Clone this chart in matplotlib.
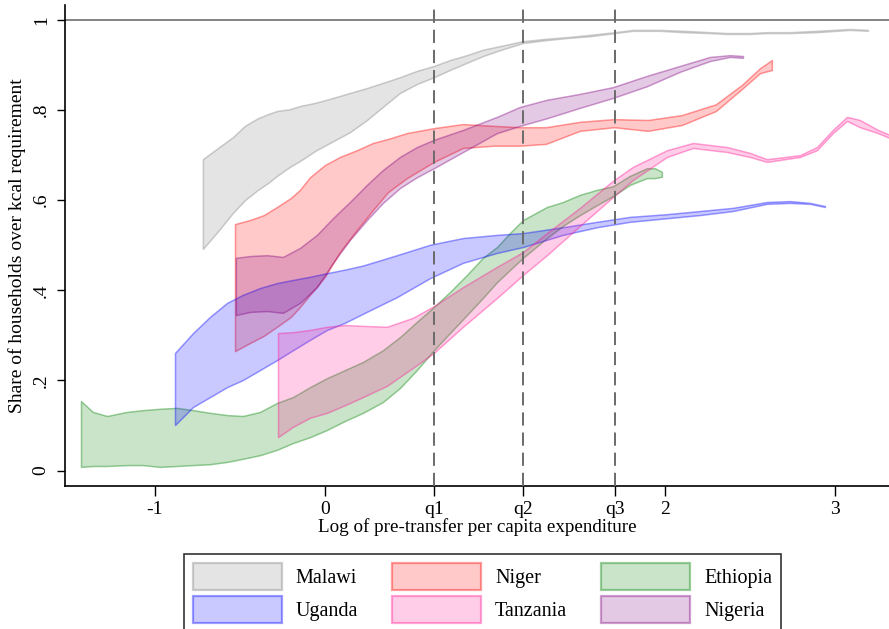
import matplotlib
matplotlib.use("Agg")
import matplotlib.pyplot as plt
from matplotlib.patches import Patch
from matplotlib.colors import to_rgba

plt.rcParams['font.family'] = ['Liberation Serif', 'DejaVu Serif']
plt.rcParams['lines.scale_dashes'] = False

# ---- data: confidence bands of share of households above kcal requirement ----
malawi_x = [-0.718, -0.629, -0.541, -0.471, -0.394, -0.335, -0.282, -0.206, -0.147, -0.059,
            0.029, 0.147, 0.247, 0.353, 0.441, 0.541, 0.641, 0.735, 0.835, 0.929,
            1.029, 1.165, 1.294, 1.424, 1.559, 1.706, 1.812, 1.971, 2.106, 2.265,
            2.365, 2.5, 2.6, 2.735, 2.894, 3.088, 3.194]
malawi_hi = [0.691, 0.716, 0.740, 0.765, 0.782, 0.791, 0.798, 0.802, 0.809, 0.816,
             0.825, 0.838, 0.849, 0.862, 0.873, 0.887, 0.898, 0.911, 0.922, 0.934,
             0.942, 0.953, 0.958, 0.962, 0.967, 0.973, 0.978, 0.978, 0.976, 0.973,
             0.971, 0.971, 0.973, 0.973, 0.976, 0.980, 0.978]
malawi_lo = [0.492, 0.531, 0.572, 0.600, 0.623, 0.638, 0.654, 0.674, 0.687, 0.709,
             0.727, 0.751, 0.778, 0.811, 0.838, 0.858, 0.873, 0.889, 0.905, 0.920,
             0.933, 0.949, 0.955, 0.960, 0.964, 0.971, 0.976, 0.976, 0.973, 0.971,
             0.969, 0.969, 0.971, 0.971, 0.973, 0.978, 0.976]

niger_x = [-0.529, -0.441, -0.359, -0.282, -0.200, -0.147, -0.088, 0.0, 0.088, 0.188,
           0.282, 0.371, 0.482, 0.641, 0.812, 0.994, 1.147, 1.300, 1.500, 1.700,
           1.900, 2.100, 2.300, 2.453, 2.559, 2.629]
niger_hi = [0.547, 0.556, 0.567, 0.585, 0.605, 0.623, 0.651, 0.678, 0.696, 0.711,
            0.727, 0.736, 0.749, 0.760, 0.769, 0.765, 0.762, 0.762, 0.774, 0.780,
            0.778, 0.789, 0.813, 0.856, 0.893, 0.911]
niger_lo = [0.265, 0.283, 0.299, 0.319, 0.341, 0.363, 0.390, 0.430, 0.485, 0.534,
            0.578, 0.618, 0.649, 0.685, 0.716, 0.721, 0.721, 0.725, 0.754, 0.762,
            0.754, 0.767, 0.798, 0.847, 0.882, 0.889]

ethiopia_x = [-1.435, -1.365, -1.282, -1.165, -1.071, -0.971, -0.871, -0.776, -0.676, -0.576,
              -0.482, -0.382, -0.282, -0.188, -0.088, 0.012, 0.118, 0.224, 0.341, 0.441,
              0.541, 0.641, 0.735, 0.835, 0.929, 1.012, 1.088, 1.165, 1.306, 1.400,
              1.500, 1.600, 1.694, 1.794, 1.894, 1.941, 1.982]
ethiopia_hi = [0.154, 0.130, 0.121, 0.130, 0.134, 0.137, 0.139, 0.134, 0.128, 0.123,
               0.121, 0.130, 0.150, 0.163, 0.185, 0.205, 0.223, 0.241, 0.267, 0.296,
               0.330, 0.363, 0.396, 0.434, 0.472, 0.496, 0.527, 0.556, 0.585, 0.596,
               0.612, 0.623, 0.631, 0.654, 0.671, 0.671, 0.663]
ethiopia_lo = [0.008, 0.010, 0.010, 0.012, 0.012, 0.008, 0.010, 0.012, 0.014, 0.019,
               0.026, 0.034, 0.046, 0.061, 0.074, 0.090, 0.110, 0.128, 0.152, 0.183,
               0.223, 0.267, 0.305, 0.345, 0.383, 0.418, 0.445, 0.472, 0.516, 0.543,
               0.567, 0.589, 0.609, 0.634, 0.649, 0.649, 0.652]

uganda_x = [-0.882, -0.776, -0.676, -0.576, -0.482, -0.382, -0.282, -0.188, -0.088, 0.012,
            0.118, 0.224, 0.424, 0.618, 0.812, 1.012, 1.165, 1.400, 1.600, 1.794,
            2.012, 2.206, 2.400, 2.600, 2.735, 2.853, 2.941]
uganda_hi = [0.261, 0.305, 0.341, 0.372, 0.390, 0.405, 0.416, 0.423, 0.430, 0.438,
             0.446, 0.455, 0.478, 0.501, 0.516, 0.523, 0.527, 0.540, 0.552, 0.563,
             0.569, 0.576, 0.583, 0.596, 0.598, 0.594, 0.587]
uganda_lo = [0.101, 0.141, 0.163, 0.185, 0.201, 0.223, 0.245, 0.267, 0.290, 0.312,
             0.328, 0.348, 0.385, 0.427, 0.461, 0.483, 0.496, 0.523, 0.540, 0.552,
             0.560, 0.567, 0.576, 0.592, 0.594, 0.592, 0.585]

tanzania_x = [-0.276, -0.188, -0.088, 0.012, 0.118, 0.224, 0.365, 0.518, 0.641, 0.812,
              1.012, 1.165, 1.306, 1.500, 1.694, 1.812, 2.012, 2.165, 2.365, 2.500,
              2.600, 2.794, 2.894, 2.988, 3.071, 3.147, 3.253, 3.335]
tanzania_hi = [0.305, 0.307, 0.312, 0.319, 0.323, 0.321, 0.319, 0.339, 0.365, 0.407,
               0.452, 0.485, 0.527, 0.583, 0.643, 0.674, 0.711, 0.727, 0.718, 0.705,
               0.691, 0.700, 0.718, 0.756, 0.785, 0.778, 0.756, 0.743]
tanzania_lo = [0.074, 0.097, 0.117, 0.128, 0.145, 0.163, 0.188, 0.228, 0.261, 0.319,
               0.383, 0.434, 0.478, 0.543, 0.607, 0.645, 0.696, 0.716, 0.707, 0.696,
               0.685, 0.696, 0.711, 0.749, 0.776, 0.762, 0.749, 0.736]

nigeria_x = [-0.524, -0.441, -0.341, -0.247, -0.147, -0.047, 0.047, 0.147, 0.247, 0.341,
             0.441, 0.541, 0.641, 0.812, 1.012, 1.147, 1.306, 1.500, 1.694, 1.894,
             2.088, 2.265, 2.382, 2.459]
nigeria_hi = [0.472, 0.476, 0.478, 0.474, 0.494, 0.523, 0.560, 0.596, 0.634, 0.667,
              0.696, 0.718, 0.734, 0.756, 0.785, 0.807, 0.823, 0.836, 0.851, 0.876,
              0.898, 0.918, 0.922, 0.920]
nigeria_lo = [0.345, 0.352, 0.354, 0.350, 0.372, 0.407, 0.461, 0.512, 0.556, 0.594,
              0.627, 0.651, 0.671, 0.707, 0.749, 0.765, 0.782, 0.805, 0.827, 0.853,
              0.885, 0.909, 0.918, 0.916]

quartiles = [0.641, 1.165, 1.706]
quartile_labels = ['q1', 'q2', 'q3']
x_ticks = [-1, 0, 2, 3]
y_ticks = [0, 0.2, 0.4, 0.6, 0.8, 1.0]
y_tick_labels = ['0', '.2', '.4', '.6', '.8', '1']

countries = ['Malawi', 'Niger', 'Ethiopia', 'Uganda', 'Tanzania', 'Nigeria']
bands = {
    'Malawi': (malawi_x, malawi_lo, malawi_hi),
    'Niger': (niger_x, niger_lo, niger_hi),
    'Ethiopia': (ethiopia_x, ethiopia_lo, ethiopia_hi),
    'Uganda': (uganda_x, uganda_lo, uganda_hi),
    'Tanzania': (tanzania_x, tanzania_lo, tanzania_hi),
    'Nigeria': (nigeria_x, nigeria_lo, nigeria_hi),
}
base_colors = {
    'Malawi': '#808080',
    'Niger': '#ff0000',
    'Ethiopia': '#008000',
    'Uganda': '#0000ff',
    'Tanzania': '#ff1493',
    'Nigeria': '#800080',
}
FILL_ALPHA = 0.21
EDGE_ALPHA = 0.38

fig = plt.figure(figsize=(8.89, 6.29), dpi=100)
ax = fig.add_axes([65 / 889, 1 - 486 / 629, 1 - 65 / 889, (486 - 5) / 629])

handles = {}
for name in countries:
    xs, lo, hi = bands[name]
    fc = to_rgba(base_colors[name], FILL_ALPHA)
    ec = to_rgba(base_colors[name], EDGE_ALPHA)
    ax.fill_between(xs, lo, hi, facecolor=fc, edgecolor=ec, linewidth=1.1, zorder=2)
    handles[name] = Patch(facecolor=fc, edgecolor=ec, linewidth=1.6)

ax.axhline(1.0, color='#7a7a7a', linewidth=1.3, zorder=1)
for q in quartiles:
    ax.axvline(q, color='#6a6a6a', linewidth=1.4, linestyle=(0, (9.5, 5.0)), zorder=3)

ax.set_xlim(-1.529, 3.318)
ax.set_ylim(-0.0344, 1.0333)

ticks = sorted(x_ticks + quartiles)
tick_labels = []
for t in ticks:
    if t in quartiles:
        tick_labels.append(quartile_labels[quartiles.index(t)])
    else:
        tick_labels.append(str(t))
ax.set_xticks(ticks)
ax.set_xticklabels(tick_labels)
ax.set_yticks(y_ticks)
ax.set_yticklabels(y_tick_labels, rotation=90, va='center')

ax.tick_params(axis='x', length=7, width=1.0, pad=4, labelsize=14)
ax.tick_params(axis='y', length=6, width=1.0, pad=5, labelsize=14)

for side in ('top', 'right'):
    ax.spines[side].set_visible(False)
for side in ('left', 'bottom'):
    ax.spines[side].set_linewidth(1.2)
    ax.spines[side].set_color('black')

ax.set_xlabel('Log of pre-transfer per capita expenditure', fontsize=13.7, labelpad=0)
ax.set_ylabel('Share of households over kcal requirement', fontsize=14, labelpad=5)

legend_order = ['Malawi', 'Uganda', 'Niger', 'Tanzania', 'Ethiopia', 'Nigeria']
leg = fig.legend([handles[n] for n in legend_order], legend_order, ncol=3,
                 loc='upper left', bbox_to_anchor=(184 / 889, 1 - 554 / 629),
                 bbox_transform=fig.transFigure, frameon=True, fancybox=False,
                 edgecolor='black', fontsize=14.5, handlelength=4.4, handleheight=1.68,
                 handletextpad=0.7, columnspacing=1.7, labelspacing=0.3,
                 borderpad=0.45, borderaxespad=0)
leg.get_frame().set_linewidth(1.2)

fig.savefig('out.png', dpi=100)
